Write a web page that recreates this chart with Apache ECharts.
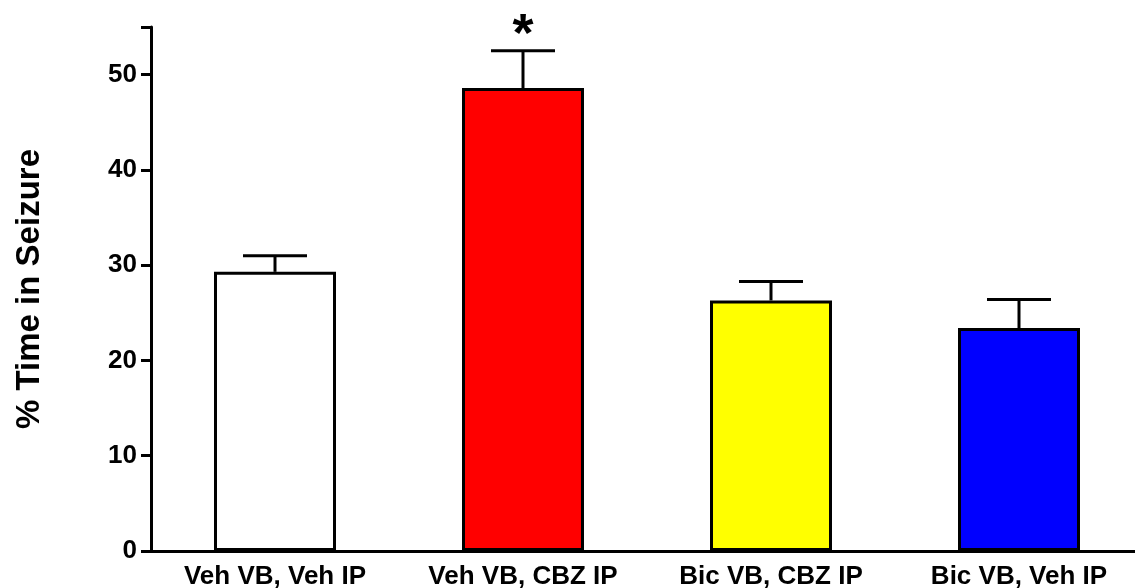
<!DOCTYPE html>
<html>
<head>
<meta charset="utf-8">
<style>
  html, body { margin: 0; padding: 0; background: #ffffff; }
  #chart { width: 1135px; height: 588px; }
</style>
<script src="https://cdn.jsdelivr.net/npm/echarts@6/dist/echarts.min.js"></script>
</head>
<body>
<div id="chart"></div>
<script>
// Group labels, mean % time in seizure, upper SEM bound and significance marks
const groups = ['Veh VB, Veh IP', 'Veh VB, CBZ IP', 'Bic VB, CBZ IP', 'Bic VB, Veh IP'];
const means = [29.3, 48.6, 26.3, 23.4];
const upperBounds = [31.0, 52.5, 28.3, 26.4];
const barColors = ['#ffffff', '#ff0000', '#ffff00', '#0000ff'];
const significance = ['', '*', '', ''];
const yTicks = [0, 10, 20, 30, 40, 50];

const FONT = '"Liberation Sans", Arial, sans-serif';
const chart = echarts.init(document.getElementById('chart'), null, { renderer: 'canvas' });

const option = {
  animation: false,
  backgroundColor: '#ffffff',
  grid: { left: 151, top: 27, bottom: 37, width: 992, outerBoundsMode: 'none', containLabel: false },
  xAxis: {
    type: 'category',
    data: groups,
    axisLine: { lineStyle: { color: '#000', width: 3 } },
    axisTick: { alignWithLabel: true, length: 9, lineStyle: { color: '#000', width: 3 } },
    axisLabel: { color: '#000', fontFamily: FONT, fontWeight: 'bold', fontSize: 26, margin: 13 },
    splitLine: { show: false }
  },
  yAxis: {
    type: 'value',
    min: 0,
    max: 55,
    interval: 10,
    name: '% Time in Seizure',
    nameLocation: 'middle',
    nameGap: 105,
    nameTextStyle: { color: '#000', fontFamily: FONT, fontWeight: 'bold', fontSize: 33 },
    axisLine: { show: true, lineStyle: { color: '#000', width: 3 } },
    axisTick: { show: true, length: 10, lineStyle: { color: '#000', width: 3 } },
    axisLabel: {
      color: '#000', fontFamily: FONT, fontWeight: 'bold', fontSize: 26, margin: 14,
      formatter: v => (yTicks.includes(v) ? String(v) : '')
    },
    splitLine: { show: false }
  },
  series: [
    {
      type: 'bar',
      barWidth: 122,
      data: means.map((v, i) => ({
        value: v,
        itemStyle: { color: barColors[i], borderColor: '#000', borderWidth: 3 }
      })),
      z: 2
    },
    {
      type: 'custom',
      z: 3,
      data: means.map((v, i) => [i, v, upperBounds[i], significance[i]]),
      renderItem: function (params, api) {
        const base = api.coord([api.value(0), api.value(1)]);
        const top = api.coord([api.value(0), api.value(2)]);
        const capHalf = 32;
        const style = { stroke: '#000', lineWidth: 3 };
        const children = [
          { type: 'line', shape: { x1: base[0], y1: base[1], x2: top[0], y2: top[1] }, style: style },
          { type: 'line', shape: { x1: top[0] - capHalf, y1: top[1], x2: top[0] + capHalf, y2: top[1] }, style: style }
        ];
        const mark = api.value(3);
        if (mark) {
          children.push({
            type: 'text',
            style: {
              text: mark, x: top[0], y: top[1] + 12,
              align: 'center', verticalAlign: 'bottom',
              font: 'bold 54px ' + FONT, fill: '#000'
            }
          });
        }
        return { type: 'group', children: children };
      }
    }
  ]
};

chart.setOption(option);
</script>
</body>
</html>
